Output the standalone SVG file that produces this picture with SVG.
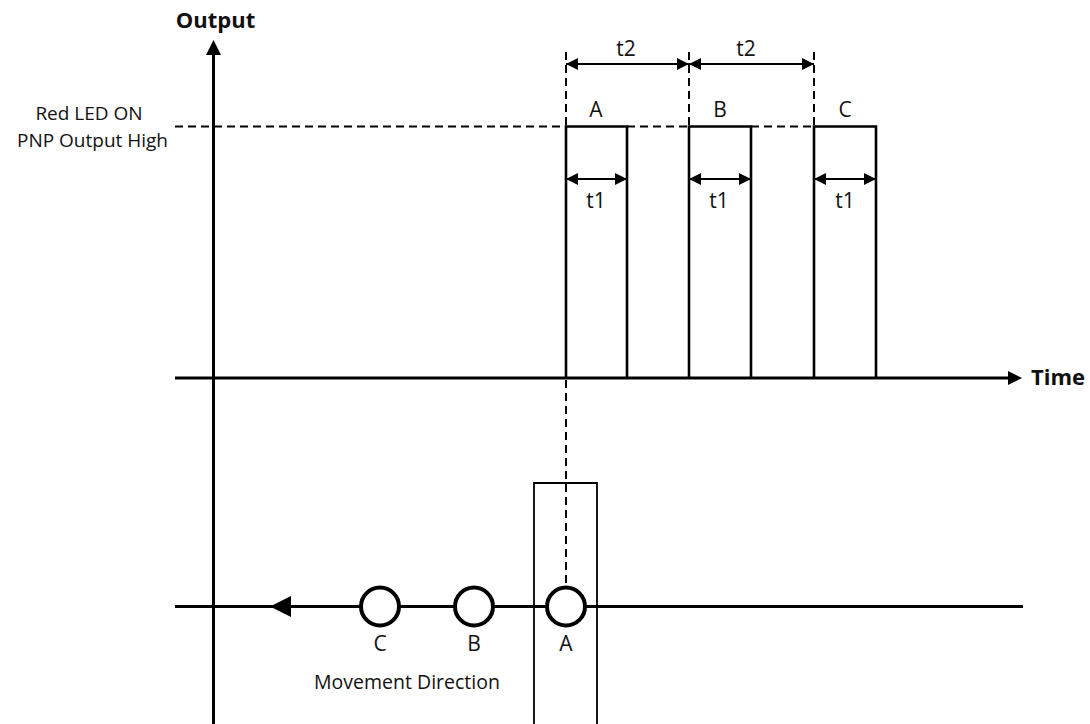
<svg xmlns="http://www.w3.org/2000/svg" width="1090" height="724" viewBox="0 0 1090 724">
<style>
.ax{stroke:#000;stroke-width:3;fill:none}
.pl{stroke:#000;stroke-width:2.6;fill:none}
.ds{stroke:#000;stroke-width:2;stroke-dasharray:8,5;fill:none}
.dim{stroke:#000;stroke-width:2;fill:none}
.t{font-family:"Open Sans","Liberation Sans",sans-serif;font-size:19.5px;fill:#111}
.s{font-size:19px}
.l{font-size:21px}
.b{font-family:"Open Sans","Liberation Sans",sans-serif;font-size:22px;font-weight:bold;fill:#111}
.c{text-anchor:middle}
</style>
<defs>
<marker id="ah" viewBox="0 0 12 12" refX="12" refY="6" markerWidth="12" markerHeight="12" markerUnits="userSpaceOnUse" orient="auto-start-reverse">
<path d="M0,0 L12,6 L0,12 Z" fill="#000"/>
</marker>
</defs>
<rect width="1090" height="724" fill="#fff"/>
<g id="axes">
<line class="ax" x1="213.5" y1="724" x2="213.5" y2="54"/>
<path d="M213.5,40 L206,55 L221,55 Z" fill="#000"/>
<line class="ax" x1="175" y1="378" x2="1009" y2="378"/>
<path d="M1022,378 L1008,371 L1008,385 Z" fill="#000"/>
<text class="b c" x="215.5" y="28">Output</text>
<text class="b" x="1031" y="385">Time</text>
</g>
<g id="levels">
<text class="t s c" x="89" y="120">Red LED ON</text>
<text class="t s c" x="92.5" y="147">PNP Output High</text>
<path class="ds" d="M175,126.5 H566 M627,126.5 H689 M751,126.5 H814"/>
</g>
<g id="pulse-A">
<path class="pl" d="M566,378 V126.5 H627 V378"/>
<text class="t l c" x="596" y="117">A</text>
</g>
<g id="pulse-B">
<path class="pl" d="M689,378 V126.5 H751 V378"/>
<text class="t l c" x="720" y="117">B</text>
</g>
<g id="pulse-C">
<path class="pl" d="M814,378 V126.5 H876 V378"/>
<text class="t l c" x="845" y="117">C</text>
</g>
<g id="connectors">
<path class="ds" d="M566,52 V126 M689,52 V126 M814,52 V126"/>
<line class="dim" x1="566" y1="64" x2="689" y2="64" marker-start="url(#ah)" marker-end="url(#ah)"/>
<line class="dim" x1="689" y1="64" x2="814" y2="64" marker-start="url(#ah)" marker-end="url(#ah)"/>
<line class="dim" x1="566" y1="179" x2="627" y2="179" marker-start="url(#ah)" marker-end="url(#ah)"/>
<line class="dim" x1="689" y1="179" x2="751" y2="179" marker-start="url(#ah)" marker-end="url(#ah)"/>
<line class="dim" x1="814" y1="179" x2="876" y2="179" marker-start="url(#ah)" marker-end="url(#ah)"/>
<path class="ds" d="M566,380 V587"/>
</g>
<g id="dim-labels">
<text class="t l c" x="626" y="56">t2</text>
<text class="t l c" x="746" y="56">t2</text>
<text class="t l c" x="596" y="208">t1</text>
<text class="t l c" x="719" y="208">t1</text>
<text class="t l c" x="845" y="208">t1</text>
</g>
<g id="sensor">
<path d="M534,724 V483 H597 V724" fill="none" stroke="#000" stroke-width="1.8"/>
</g>
<g id="conveyor">
<line class="ax" x1="175" y1="606.5" x2="1023" y2="606.5"/>
<path d="M270,606.5 L291,596 L291,617 Z" fill="#000"/>
<text class="t c" x="407" y="689">Movement Direction</text>
</g>
<g id="object-C">
<circle cx="380" cy="606.5" r="19" fill="#fff" stroke="#000" stroke-width="4"/>
<text class="t l c" x="380" y="651">C</text>
</g>
<g id="object-B">
<circle cx="474" cy="606.5" r="19" fill="#fff" stroke="#000" stroke-width="4"/>
<text class="t l c" x="474" y="651">B</text>
</g>
<g id="object-A">
<circle cx="566" cy="606.5" r="19" fill="#fff" stroke="#000" stroke-width="4"/>
<text class="t l c" x="566" y="651">A</text>
</g>
</svg>
